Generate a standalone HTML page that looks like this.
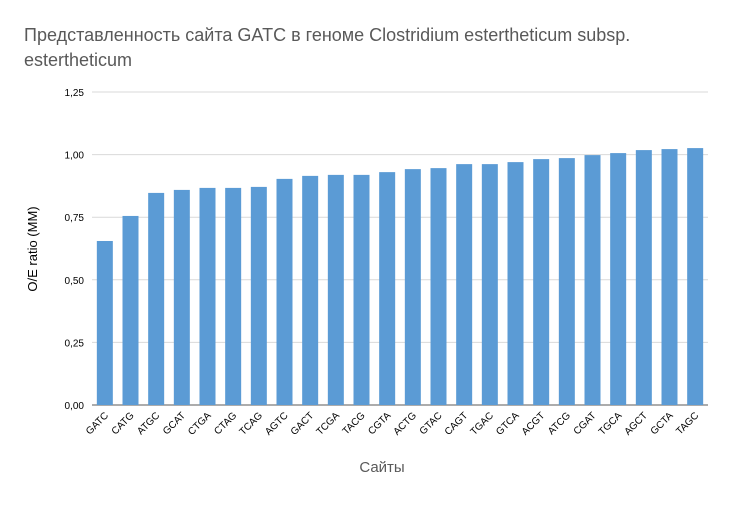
<!DOCTYPE html>
<html><head><meta charset="utf-8"><style>
body{margin:0;background:#fff;font-family:"Liberation Sans",sans-serif}
</style></head><body>
<svg id="c" width="732" height="500" xmlns="http://www.w3.org/2000/svg">
<text x="24" y="41" font-size="18" fill="#595959">Представленность сайта GATC в геноме  Clostridium esterthetic<tspan>um subsp.</tspan></text>
<text x="24" y="66" font-size="18" fill="#595959">esterthe<tspan>ticum</tspan></text>
<g id="grid"></g><g id="bars"></g><g id="xl"></g>
<text x="382" y="472" font-size="15" fill="#595959" text-anchor="middle">Сайты</text>
<text transform="translate(37,249) rotate(-90)" font-size="13" fill="#000" text-anchor="middle">O/E ratio (MM)</text>
</svg>
<script>
const categories=["GATC","CATG","ATGC","GCAT","CTGA","CTAG","TCAG","AGTC","GACT","TCGA","TACG","CGTA","ACTG","GTAC","CAGT","TGAC","GTCA","ACGT","ATCG","CGAT","TGCA","AGCT","GCTA","TAGC"];
const values=[0.655,0.755,0.847,0.859,0.867,0.867,0.871,0.903,0.915,0.919,0.919,0.93,0.942,0.946,0.962,0.962,0.97,0.982,0.986,0.998,1.006,1.018,1.022,1.026];
const ticks=[0,0.25,0.5,0.75,1,1.25];
const tickLabels=["0,00","0,25","0,50","0,75","1,00","1,25"];
const NS="http://www.w3.org/2000/svg";
const y0=405,y1=92,x0=92,x1=708;
const y=v=>y0-(v/1.25)*(y0-y1);
const step=(x1-x0)/categories.length;
const xc=i=>x0+step*(i+0.5);
function mk(t,a,p){const e=document.createElementNS(NS,t);for(const k in a)e.setAttribute(k,a[k]);document.getElementById(p).appendChild(e);return e;}
ticks.forEach((t,i)=>{
 const l=mk('line',{x1:x0,x2:x1,y1:y(t),y2:y(t),stroke:t===0?'#595959':'#d9d9d9','stroke-width':1},'grid');
 
 
 const tx=mk('text',{x:84,y:y(t)+4,'font-size':10,fill:'#000','text-anchor':'end'},'grid');
 tx.textContent=tickLabels[i];
 
 
});
categories.forEach((c,i)=>{
 const w=16;
 const r=mk('rect',{x:xc(i)-w/2,y:y(values[i]),width:w,height:y0-y(values[i]),fill:'#5b9bd5'},'bars');
 
 
 const t=mk('text',{transform:`translate(${xc(i)+4},${y0+11}) rotate(-45)`,'font-size':10,fill:'#000','text-anchor':'end'},'xl');
 t.textContent=c;
 
 
});
</script>
</body></html>
